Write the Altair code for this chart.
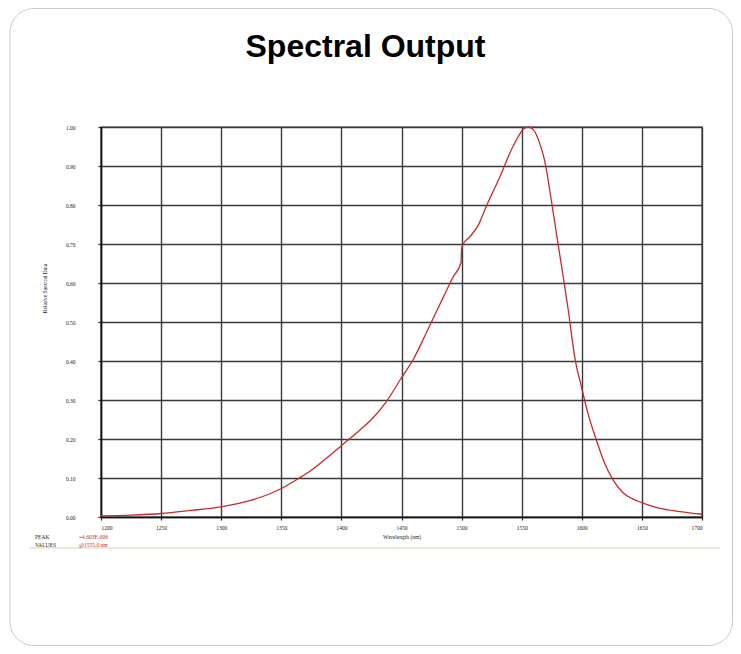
import altair as alt
import pandas as pd

# ---- data ----
wavelength = [1200, 1225, 1250, 1275, 1300, 1325, 1340, 1350, 1365, 1375,
              1390, 1400, 1415, 1425, 1437, 1450, 1460, 1468, 1476, 1485,
              1493, 1499.5, 1500, 1501, 1507, 1514, 1521, 1532, 1540, 1547,
              1552, 1555.5, 1560, 1565, 1569, 1575, 1580, 1585, 1589, 1594,
              1600, 1605, 1612, 1619, 1626, 1634, 1642, 1650, 1665, 1682, 1700]
relative = [0.003, 0.005, 0.009, 0.017, 0.026, 0.043, 0.059, 0.073, 0.100, 0.120,
            0.157, 0.183, 0.222, 0.250, 0.294, 0.357, 0.405, 0.455, 0.507, 0.565,
            0.616, 0.652, 0.688, 0.698, 0.719, 0.749, 0.800, 0.873, 0.932, 0.975,
            0.996, 1.000, 0.992, 0.958, 0.915, 0.805, 0.705, 0.607, 0.525, 0.412,
            0.330, 0.267, 0.198, 0.138, 0.095, 0.063, 0.047, 0.037, 0.022, 0.014, 0.007]

x_ticks = [1200, 1250, 1300, 1350, 1400, 1450, 1500, 1550, 1600, 1650, 1700]
y_ticks = [0.0, 0.1, 0.2, 0.3, 0.4, 0.5, 0.6, 0.7, 0.8, 0.9, 1.0]

title_text = "Spectral Output"
x_title = "Wavelength (nm)"
y_title = "Relative Spectral Data"
note_labels = ["PEAK", "VALUES"]
note_values = ["=4.603E-006", "@1555.0 nm"]

df = pd.DataFrame({"wavelength": wavelength, "relative": relative})
one = pd.DataFrame({"k": [0]})

SERIF = "Liberation Serif"
RED = "#c42b2b"

line = alt.Chart(df).mark_line(color=RED, strokeWidth=1.3, interpolate="monotone").encode(
    x=alt.X("wavelength:Q",
            scale=alt.Scale(domain=[1200, 1700], nice=False, zero=False),
            axis=alt.Axis(values=x_ticks, format="d", title=x_title,
                          labelPadding=5, titleY=21, titleBaseline="alphabetic")),
    y=alt.Y("relative:Q",
            scale=alt.Scale(domain=[0, 1], nice=False),
            axis=alt.Axis(values=y_ticks, format=".2f", title=y_title,
                          labelPadding=23, titleAngle=270, titleX=-57, titleY=161,
                          titleAlign="center", titleBaseline="middle")),
)

frame = alt.Chart(one).mark_rect(filled=False, stroke="#c9c9c9", strokeWidth=1,
                                 cornerRadius=24).encode(
    x=alt.value(-91), x2=alt.value(631.5), y=alt.value(-118.5), y2=alt.value(518.5))

title = alt.Chart(one).mark_text(text=title_text, font="Liberation Sans", fontSize=32,
                                 fontWeight="bold", color="black", align="center",
                                 baseline="alphabetic").encode(
    x=alt.value(264.5), y=alt.value(-70))

note_rule = alt.Chart(one).mark_rule(color="#e2e5cc", strokeWidth=1.5).encode(
    x=alt.value(-72), x2=alt.value(619), y=alt.value(421))

def note(txt, x, y, color):
    return alt.Chart(one).mark_text(text=txt, font=SERIF, fontSize=5.5, color=color,
                                    align="left", baseline="alphabetic").encode(
        x=alt.value(x), y=alt.value(y))

texts = [note(note_labels[0], -66, 412, "#222"),
         note(note_labels[1], -66, 420, "#222"),
         note(note_values[0], -22, 412, RED),
         note(note_values[1], -22, 420, RED)]

chart = alt.layer(frame, title, line, note_rule, *texts).properties(
    width=601, height=390,
    autosize=alt.AutoSizeParams(type="none"),
    padding={"left": 93, "top": 119, "right": 31, "bottom": 129},
).configure_view(
    stroke="#3a3a3a", strokeWidth=1.4
).configure_axis(
    labelFont=SERIF, labelFontSize=5.5, labelColor="#222",
    titleFont=SERIF, titleFontSize=5.5, titleFontWeight="normal", titleColor="#222",
    tickColor="#222", tickSize=3, tickWidth=1.2,
    domainColor="#111", domainWidth=1.5,
    grid=True, gridColor="#3a3a3a", gridWidth=1.4,
)

chart.save("out.html", embed_options={"renderer": "svg", "actions": False})
